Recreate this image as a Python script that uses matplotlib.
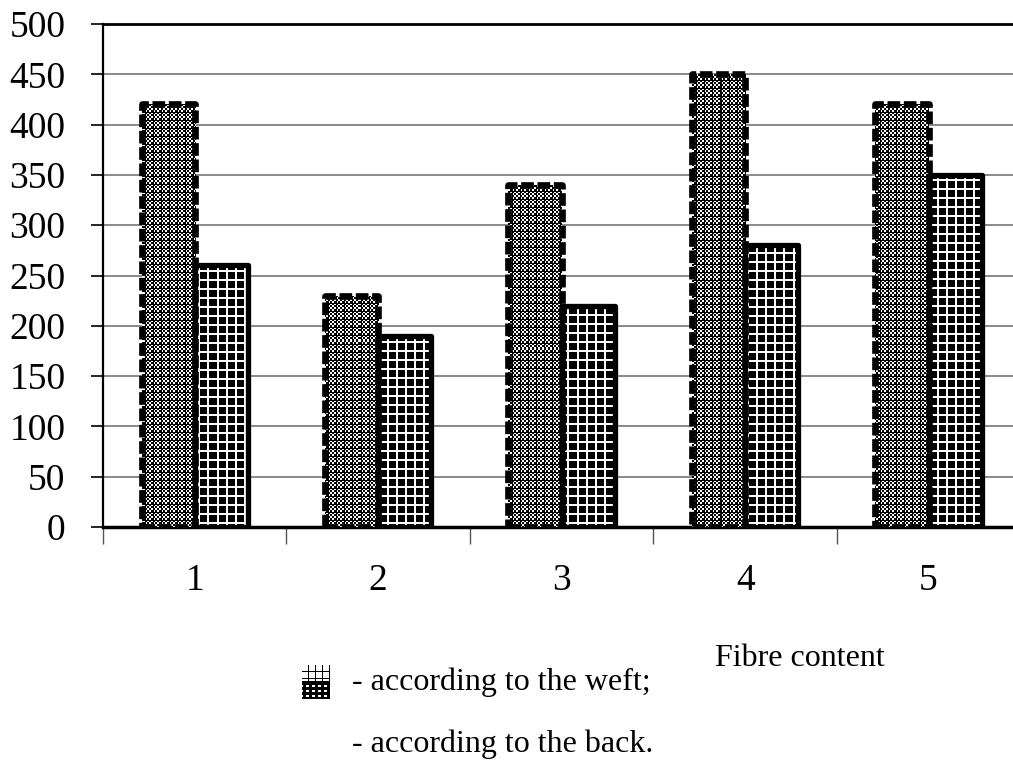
import matplotlib
matplotlib.use("Agg")
import matplotlib.pyplot as plt
import numpy as np

plt.rcParams['font.family'] = ['Liberation Serif', 'DejaVu Serif']

categories = [1, 2, 3, 4, 5]
weft = [420, 230, 340, 450, 420]
back = [260, 190, 220, 280, 350]
yticks = [0, 50, 100, 150, 200, 250, 300, 350, 400, 450, 500]

W, H = 1013, 774
fig = plt.figure(figsize=(W / 100, H / 100), dpi=100)
ax_l, ax_t, ax_r, ax_b = 103, 24, 1013, 527
ax = fig.add_axes([ax_l / W, 1 - ax_b / H, (ax_r - ax_l) / W, (ax_b - ax_t) / H])
xlim = (0.5, 5.46)
ylim = (0, 500)


def texture(kind, h, w, x0, y0):
    # pixel fill patterns, in figure pixel coordinates
    Y, X = np.indices((h, w))
    X = X + x0
    Y = Y + y0
    if kind == 'checker':
        chk = (X // 2 + Y // 2) % 2 == 1
        lines = (X % 8 == 0) | (Y % 8 == 0)
        return (chk & ~lines).astype(float)
    if kind == 'grid':
        return ((X % 9 < 2) | (Y % 9 < 2)).astype(float)
    if kind == 'gridlight':
        return (~((X % 7 < 1) | (Y % 7 < 1))).astype(float)
    if kind == 'dots':
        return ((X % 6 < 3) & (Y % 5 < 2)).astype(float)
    return np.ones((h, w))


weft_tex = texture('checker', ax_b - ax_t, ax_r - ax_l, ax_l, ax_t)
back_tex = texture('grid', ax_b - ax_t, ax_r - ax_l, ax_l, ax_t)

x = np.array(categories)
w = 0.29

weft_bars = ax.bar(x - w/2, weft, w, facecolor='none', edgecolor='black', linewidth=4.8,
                   linestyle=(0, (1.9, 0.55)), zorder=4)
back_bars = ax.bar(x + w/2, back, w, facecolor='none', edgecolor='black', linewidth=3.8,
                   zorder=4)
for b in weft_bars:
    b.set_capstyle('butt')
    b.set_joinstyle('round')
for b in back_bars:
    b.set_joinstyle('round')

for bars, tex in [(weft_bars, weft_tex), (back_bars, back_tex)]:
    for b in bars:
        im = ax.imshow(tex, cmap='gray', vmin=0, vmax=1, extent=(xlim[0], xlim[1], ylim[0], ylim[1]),
                       origin='upper', aspect='auto', interpolation='nearest', zorder=3)
        im.set_clip_path(b)

ax.set_ylim(*ylim)
ax.set_xlim(*xlim)
ax.set_yticks(yticks)
ax.set_yticklabels([str(v) for v in yticks], fontsize=27)
ax.yaxis.grid(True, color='#808080', linewidth=1.3, zorder=0)
ax.set_axisbelow(True)

ax.set_xticks(categories)
ax.set_xticklabels([str(c) for c in categories], fontsize=27)
ax.tick_params(axis='x', length=0, pad=26)
ax.set_xticks([0.5, 1.5, 2.5, 3.5, 4.5], minor=True)
ax.tick_params(axis='x', which='minor', length=12, width=1, color='#555555', direction='out')
ax.tick_params(axis='y', length=9, width=1.2, direction='out', pad=18)

ax.spines['right'].set_visible(False)
ax.spines['top'].set_linewidth(2)
ax.spines['left'].set_linewidth(1.6)
ax.spines['bottom'].set_linewidth(2.5)

fig.text(715 / W, 1 - 666 / H, 'Fibre content', fontsize=23)
fig.text(352 / W, 1 - 690 / H, '- according to the weft;', fontsize=23)
fig.text(352 / W, 1 - 752 / H, '- according to the back.', fontsize=23)

# legend icon: light grid on top, dark dotted part below
ix0, iy0, iw, ih = 302, 665, 28, 34
icon = np.vstack([texture('gridlight', ih // 2, iw, ix0, iy0),
                  texture('dots', ih - ih // 2, iw, ix0, iy0 + ih // 2)])
iax = fig.add_axes([ix0 / W, 1 - (iy0 + ih) / H, iw / W, ih / H])
iax.imshow(icon, cmap='gray', vmin=0, vmax=1, interpolation='nearest', aspect='auto')
iax.set_axis_off()

fig.savefig('out.png', dpi=100)
